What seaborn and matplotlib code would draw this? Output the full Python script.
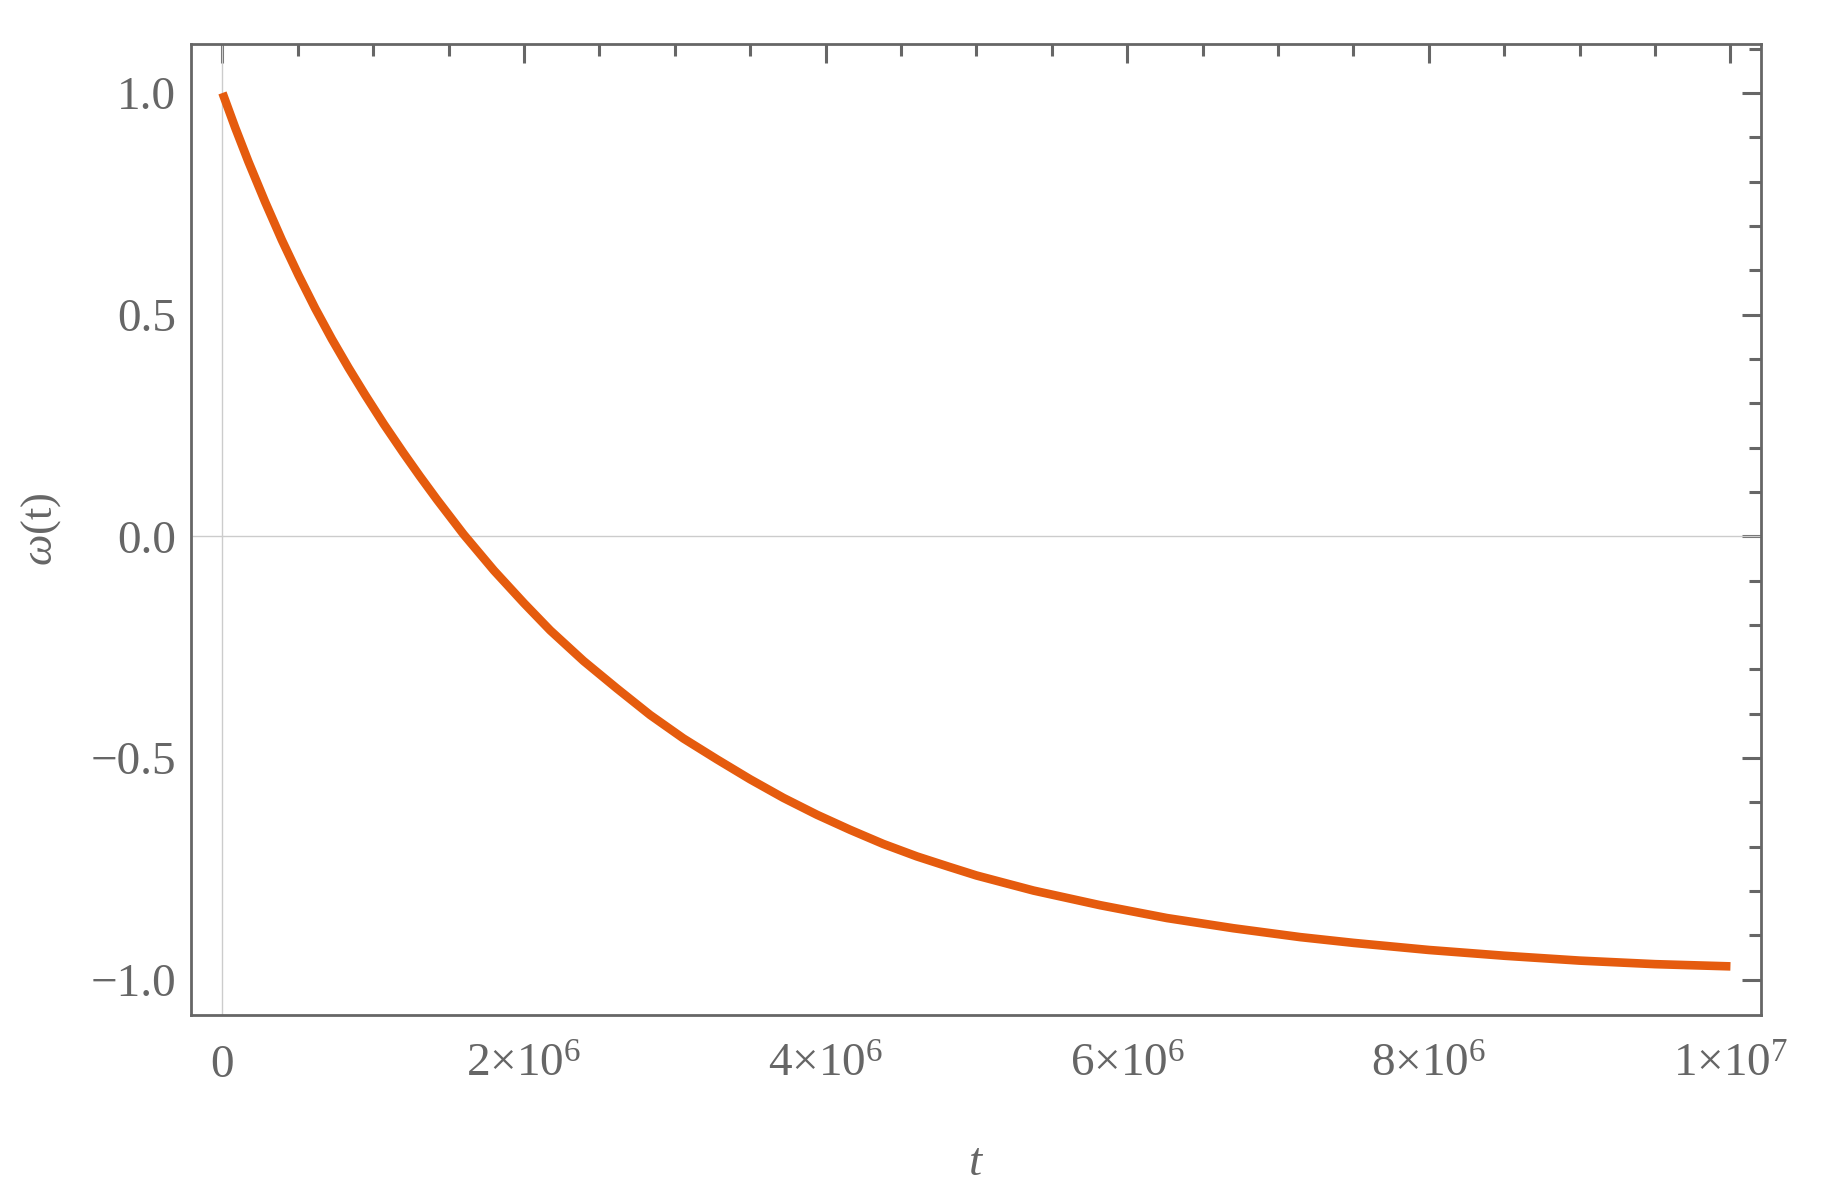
import pandas as pd
import matplotlib.pyplot as plt
import matplotlib.ticker as mticker
import seaborn as sns

# values
t_values = [0.0, 0.084e6, 0.172e6, 0.283e6, 0.394e6, 0.504e6, 0.615e6, 0.725e6,
            0.836e6, 0.946e6, 1.07e6, 1.2e6, 1.31e6, 1.422e6, 1.6e6, 1.8e6,
            2.0e6, 2.173e6, 2.394e6, 2.615e6, 2.836e6, 3.057e6, 3.279e6, 3.499e6,
            3.72e6, 3.942e6, 4.162e6, 4.383e6, 4.605e6, 4.814e6, 5.0e6, 5.378e6,
            5.82e6, 6.263e6, 6.704e6, 7.147e6, 7.5e6, 8.0e6, 8.5e6, 9.0e6,
            9.5e6, 10.0e6]
omega_values = [1.0, 0.922, 0.845, 0.754, 0.668, 0.589, 0.514, 0.445,
                0.380, 0.319, 0.253, 0.188, 0.135, 0.083, 0.004, -0.077,
                -0.151, -0.212, -0.281, -0.343, -0.403, -0.456, -0.503, -0.548,
                -0.590, -0.628, -0.662, -0.694, -0.722, -0.745, -0.765, -0.799,
                -0.832, -0.861, -0.884, -0.904, -0.917, -0.933, -0.946, -0.957,
                -0.965, -0.970]

x_ticks = [0, 2e6, 4e6, 6e6, 8e6, 1e7]
x_tick_labels = ["0", "2×10$^{6}$", "4×10$^{6}$", "6×10$^{6}$", "8×10$^{6}$", "1×10$^{7}$"]
y_ticks = [-1.0, -0.5, 0.0, 0.5, 1.0]
y_tick_labels = ["−1.0", "−0.5", "0.0", "0.5", "1.0"]

df = pd.DataFrame({"t": t_values, "omega": omega_values})

sns.set_theme(style="white")
plt.rcParams['font.family'] = ['Liberation Serif', 'DejaVu Serif']
plt.rcParams['mathtext.fontset'] = 'custom'
plt.rcParams['mathtext.rm'] = 'Liberation Serif'
plt.rcParams['mathtext.it'] = 'Liberation Serif:italic'

gray = "#666666"

fig = plt.figure(figsize=(18.23, 12.01), dpi=100)
ax = fig.add_axes([0.1050, 0.1549, 0.8611, 0.8085])

# Mathematica-style axes through the origin
ax.axhline(0, color="#cccccc", lw=1.0, zorder=1)
ax.axvline(0, color="#cccccc", lw=1.0, zorder=1)

sns.lineplot(data=df, x="t", y="omega", ax=ax, color="#E55B0E", linewidth=6.2,
             solid_capstyle="butt", zorder=3)

ax.set_xlim(-0.206e6, 10.204e6)
ax.set_ylim(-1.0796, 1.1105)

ax.set_xticks(x_ticks)
ax.set_xticklabels(x_tick_labels)
ax.set_yticks(y_ticks)
ax.set_yticklabels(y_tick_labels)
ax.xaxis.set_minor_locator(mticker.MultipleLocator(0.5e6))
ax.yaxis.set_minor_locator(mticker.MultipleLocator(0.1))

ax.tick_params(which="both", direction="in", top=True, right=True,
               color=gray, width=2.2, labelcolor=gray, labelsize=34)
ax.tick_params(which="major", length=13.5)
ax.tick_params(which="minor", length=8.5)
ax.tick_params(axis="x", which="major", pad=21)
ax.tick_params(axis="y", which="major", pad=11)

for s in ax.spines.values():
    s.set_color(gray)
    s.set_linewidth(2.0)

ax.set_xlabel("$t$", fontsize=34, color=gray, labelpad=40)
ax.set_ylabel(r"$\omega$(t)", fontsize=32, color=gray, labelpad=20)

plt.savefig("out.png", dpi=100)
